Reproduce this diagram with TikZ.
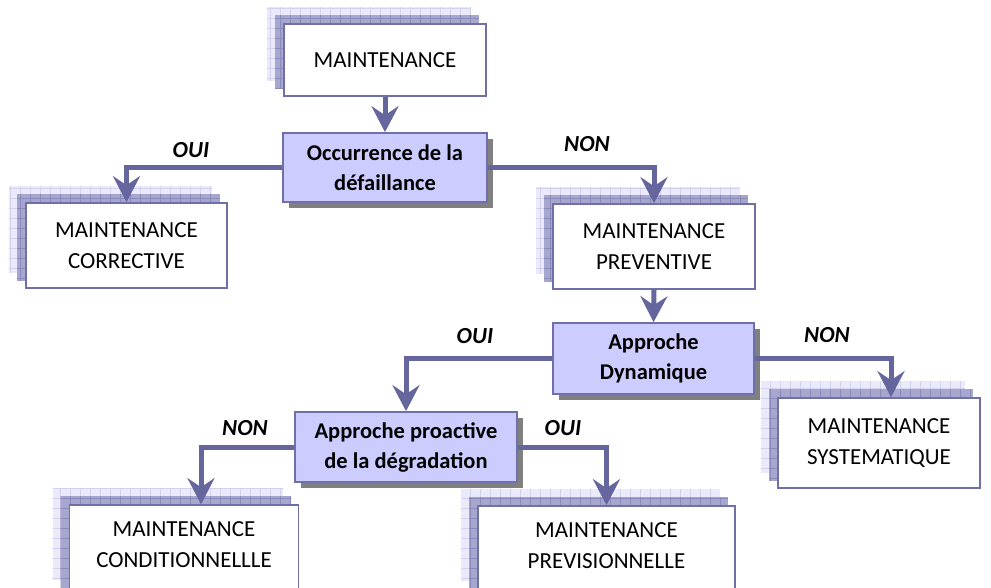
\documentclass[tikz,border=0pt]{standalone}
\usepackage{fontspec}
\setmainfont{Carlito}
\usetikzlibrary{arrows.meta,calc,shadows,backgrounds,patterns.meta}
\definecolor{lineC}{HTML}{66669E}
\definecolor{boxB}{HTML}{7070A8}
\definecolor{decF}{HTML}{CCCCFF}
\definecolor{lightL}{HTML}{EAEAFB}
\definecolor{lightG}{HTML}{D2D2EE}
\definecolor{darkL}{HTML}{A6A6CF}
\definecolor{darkG}{HTML}{8A8ABB}
\tikzset{
  x=1pt,y=-1pt,
  every node/.style={font=\fontsize{23}{31}\selectfont},
  termbox/.style={draw=boxB,line width=1.6pt,fill=white,align=center,inner sep=0pt},
  decbox/.style={draw=boxB,line width=1.6pt,fill=decF,align=center,inner sep=0pt,
    font=\fontsize{22.5}{30}\selectfont\bfseries,
    drop shadow={shadow xshift=6pt,shadow yshift=-6pt,fill=black!50,opacity=1}},
  lbl/.style={font=\fontsize{23}{26}\selectfont\bfseries\itshape},
  flow/.style={draw=lineC,line width=5pt,-{Stealth[length=26pt,width=27pt,inset=9pt]}},
  lightlayer/.style={fill=lightL,
    postaction={pattern={Lines[angle=0,distance=10pt,line width=0.6pt]},pattern color=lightG},
    postaction={pattern={Lines[angle=90,distance=10pt,line width=0.6pt]},pattern color=lightG}},
  darklayer/.style={fill=darkL,
    postaction={pattern={Lines[angle=0,distance=10pt,line width=0.6pt]},pattern color=darkG},
    postaction={pattern={Lines[angle=90,distance=10pt,line width=0.6pt]},pattern color=darkG}},
}
\newcommand\layershadow[1]{%
  \path[lightlayer] ($(#1.north west)+(-16,-16)$) rectangle ($(#1.south east)+(-16,-16)$);
  \path[darklayer] ($(#1.north west)+(-8,-8)$) rectangle ($(#1.south east)+(-8,-8)$);}
\begin{document}
\begin{tikzpicture}
\useasboundingbox (0,0) rectangle (991,588);
\clip (0,0) rectangle (991,588);

% terminal boxes
\node[termbox,minimum width=202pt,minimum height=72pt] (m0) at (385,60) {MAINTENANCE};
\node[termbox,minimum width=201pt,minimum height=85pt] (corr) at (126.5,245.5) {MAINTENANCE\\CORRECTIVE};
\node[termbox,minimum width=202pt,minimum height=85pt] (prev) at (654,246.5) {MAINTENANCE\\PREVENTIVE};
\node[termbox,minimum width=202pt,minimum height=90pt] (syst) at (879,443) {MAINTENANCE\\SYSTEMATIQUE};
\node[termbox,minimum width=229pt,minimum height=90pt,text depth=10pt] (cond) at (184,550) {MAINTENANCE\\CONDITIONNELLLE};
\node[termbox,minimum width=257pt,minimum height=90pt,text depth=10pt] (previs) at (606.5,551) {MAINTENANCE\\PREVISIONNELLE};

\begin{pgfonlayer}{background}
  \layershadow{m0}
  \layershadow{corr}
  \layershadow{prev}
  \layershadow{syst}
  \layershadow{cond}
  \layershadow{previs}
\end{pgfonlayer}

% decision boxes
\node[decbox,minimum width=204pt,minimum height=69pt] (occ) at (385,167.5) {Occurrence de la\\défaillance};
\node[decbox,minimum width=201pt,minimum height=71pt] (dyn) at (653.5,358.5) {Approche\\Dynamique};
\node[decbox,minimum width=222pt,minimum height=70pt] (proact) at (406,447) {Approche proactive\\de la dégradation};

% labels
\node[lbl] (l1) at (191,150) {OUI};
\node[lbl] (l2) at (587,144) {NON};
\node[lbl] (l3) at (475,336) {OUI};
\node[lbl] (l4) at (827,335) {NON};
\node[lbl] (l5) at (245,428) {NON};
\node[lbl] (l6) at (563,428) {OUI};

% connectors
\draw[flow] (m0.south) -- (occ.north);
\draw[flow] (occ.west) -| (corr.north);
\draw[flow] (occ.east) -| (prev.north);
\draw[flow] (prev.south) -- (dyn.north);
\draw[flow] (dyn.west) -| (proact.north);
\draw[flow] (dyn.east) -| ([xshift=12pt]syst.north);
\draw[flow] (proact.west) -| ([xshift=17pt]cond.north);
\draw[flow] (proact.east) -| (previs.north);
\end{tikzpicture}
\end{document}
